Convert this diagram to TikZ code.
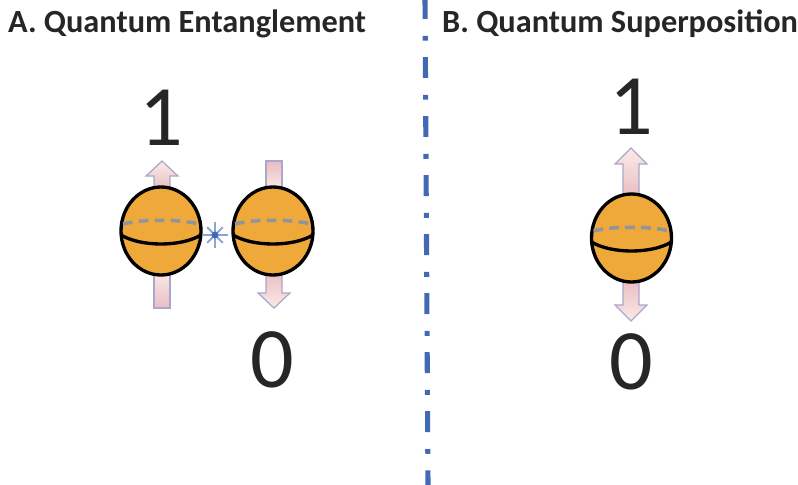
\documentclass[tikz,border=0pt]{standalone}
\usepackage{fontspec}
\setmainfont{Carlito}
\definecolor{ballorange}{HTML}{EFA93A}
\definecolor{arrowedge}{HTML}{ABA6CE}
\definecolor{arrowpink}{HTML}{E9BDC2}
\definecolor{arrowpale}{HTML}{FBEBE6}
\definecolor{cutblue}{HTML}{4169B4}
\definecolor{ringgray}{HTML}{8E959F}
\tikzset{
  title/.style={anchor=west,font=\bfseries\fontsize{18.4}{20}\selectfont,text=black!85},
  digit/.style={font=\fontsize{49}{50}\selectfont,text=black!85},
  spinup/.style={draw=arrowedge,line width=0.7pt,top color=arrowpale,bottom color=arrowpink},
  spindown/.style={draw=arrowedge,line width=0.7pt,top color=arrowpink,bottom color=arrowpale},
  qubit/.pic={
    \draw[fill=ballorange,line width=1.9pt] (0,0) ellipse[x radius=40,y radius=44];
    \draw[ringgray,line width=2pt,dash pattern=on 5.5pt off 3.6pt] (-38,-7) .. controls (-18,-12) and (18,-12) .. (38,-7);
    \draw[line width=1.9pt] (-40,4) .. controls (-20,16) and (20,16) .. (40,4);
  }
}
\begin{document}
\begin{tikzpicture}[x=0.02cm,y=-0.02cm]
  \useasboundingbox (0,0) rectangle (798,484);
  % Panel titles.
  \node[title] (titleA) at (2,24) {A. Quantum Entanglement};
  \node[title] (titleB) at (436,24) {B. Quantum Superposition};
  % Dash-dot divider between the panels.
  \draw[cutblue,line width=2.9pt,dash pattern=on 11.9pt off 9.6pt on 2.8pt off 9.3pt] (425,-2) -- (428,486);
  % Arrows of the entangled pair.
  \path[spinup] (162,161) -- (178,176) -- (170,176) -- (170,190) -- (154,190) -- (154,176) -- (146,176) -- cycle;
  \path[spinup] (154,272) rectangle (170,308);
  \path[spindown] (266,161) rectangle (282,190);
  \path[spindown] (266,272) -- (282,272) -- (282,293) -- (290,293) -- (274,308) -- (258,293) -- (266,293) -- cycle;
  % Arrows of the single particle.
  \path[spinup] (631,148) -- (647,164) -- (639,164) -- (639,197) -- (623,197) -- (623,164) -- (615,164) -- cycle;
  \path[spindown] (623,280) -- (639,280) -- (639,305) -- (647,305) -- (631,321) -- (615,305) -- (623,305) -- cycle;
  % Particles.
  \foreach \cx/\cy in {161/231,273/231,631.5/238}
    \pic at (\cx,\cy) {qubit};
  % Link between the pair.
  \foreach \a in {0,90,180,270}
    \draw[cutblue!60,line width=1.2pt] (215,235) -- ++(\a:13);
  \foreach \a in {45,135,225,315}
    \draw[cutblue!60,line width=1.2pt] (215,235) -- ++(\a:11);
  \fill[cutblue] (215,235) circle (3.5);
  % Measured values.
  \node[digit] (upA) at (161,118) {1};
  \node[digit] (downA) at (272,360) {0};
  \node[digit] (upB) at (631,107) {1};
  \node[digit] (downB) at (631,362) {0};
\end{tikzpicture}
\end{document}
